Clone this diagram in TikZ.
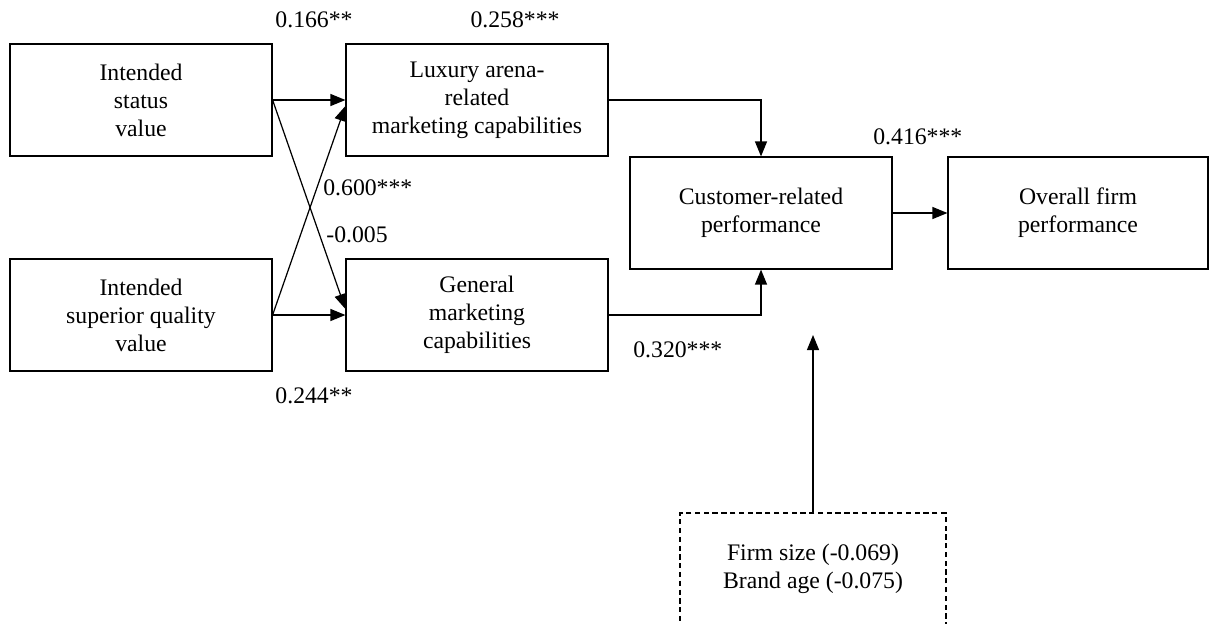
\documentclass[tikz,border=0pt]{standalone}
\usepackage{fontspec}
\setmainfont{Liberation Serif}
\usetikzlibrary{arrows.meta}
\tikzset{
  box/.style={draw, line width=0.7pt, align=center, inner sep=0pt,
    minimum width=5.24cm, minimum height=2.24cm,
    font=\fontsize{13.5}{16}\selectfont},
  ctrlbox/.style={box, dash pattern=on 3pt off 2pt, minimum width=5.32cm},
  coef/.style={font=\fontsize{13.5}{16}\selectfont, inner sep=0pt},
  link/.style={-{Triangle[length=0.3cm,width=0.24cm]}, line width=0.7pt}
}
\begin{document}
\begin{tikzpicture}[x=0.02cm, y=-0.02cm]
      \useasboundingbox (0,0) rectangle (1209,623);
      \node[box] (status) at (141,100) {Intended\\status\\value};
      \node[box] (quality) at (141,315) {Intended\\superior quality\\value};
      \node[box] (luxury) at (477,100) {Luxury arena-\\related\\marketing capabilities};
      \node[box] (general) at (477,315) {General\\marketing\\capabilities};
      \node[box] (customer) at (761,213) {Customer-related\\performance};
      \node[box, minimum width=5.2cm] (overall) at (1078,213) {Overall firm\\performance};
      \node[ctrlbox] (controls) at (813,569) {Firm size (-0.069)\\Brand age (-0.075)};
      \coordinate (tip) at (813,335);
      \node[coef] (c166) at (314,20) {0.166**};
      \node[coef] (c258) at (515,20) {0.258***};
      \node[coef, anchor=west] (c600) at (323,188) {0.600***};
      \node[coef, anchor=west] (c005) at (326,235) {-0.005};
      \node[coef] (c244) at (314,396) {0.244**};
      \node[coef, anchor=west] (c320) at (633,350) {0.320***};
      \node[coef, anchor=west] (c416) at (873,137) {0.416***};
      \begin{scope}[link]
        \draw (status.east) -- (luxury.west);
        \draw (status.east) -- ([yshift=0.12cm]general.west);
        \draw (quality.east) -- (general.west);
        \draw (quality.east) -- ([yshift=-0.12cm]luxury.west);
        \draw (luxury.east) -| (customer.north);
        \draw (general.east) -| (customer.south);
        \draw (customer.east) -- (overall.west);
        \draw (controls.north) -- (tip);
      \end{scope}
    \end{tikzpicture}
\end{document}
